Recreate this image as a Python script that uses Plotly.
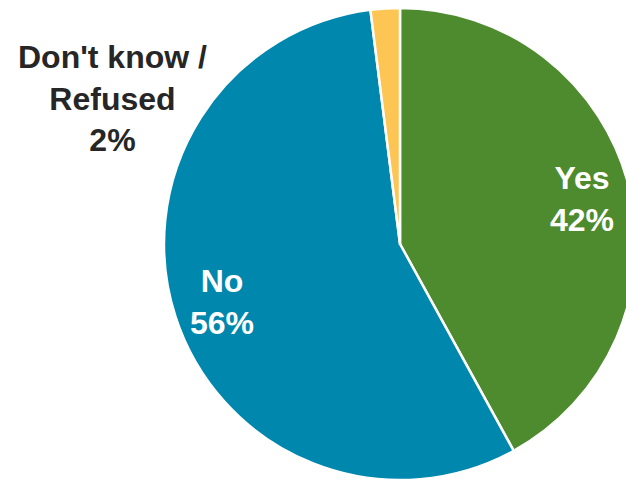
import plotly.graph_objects as go

labels = ["Yes", "No", "Don't know /<br>Refused"]
values = [42, 56, 2]
colors = ["#4d8b2e", "#0087ad", "#fdc553"]
text_colors = ["white", "white", "#262626"]

W, H = 660, 481
cx, cy, r = 400, 244, 236  # pie centre / radius in page pixels

fig = go.Figure()
fig.add_trace(go.Pie(
    labels=labels,
    values=values,
    sort=False,
    direction="clockwise",
    rotation=0,
    marker=dict(colors=colors, line=dict(color="white", width=2.5)),
    textinfo="none",
    hoverinfo="label+percent",
    showlegend=False,
    domain=dict(x=[(cx - r) / W, (cx + r) / W],
                y=[(H - (cy + r)) / H, (H - (cy - r)) / H]),
))

label_pos = [(582, 199), (222, 302), (112, 98)]
for lab, val, col, (px, py) in zip(labels, values, text_colors, label_pos):
    fig.add_annotation(
        x=px / W, y=1 - py / H, xref="paper", yref="paper",
        text=f"{lab}<br>{val}%", showarrow=False,
        font=dict(family="Liberation Sans, Arial, sans-serif", size=32, color=col, weight="bold"),
        align="center", xanchor="center", yanchor="middle",
    )

fig.update_layout(
    margin=dict(l=0, r=0, t=0, b=0),
    paper_bgcolor="white",
    plot_bgcolor="white",
    width=W, height=H,
)

fig.write_html(
    "out.html",
    config={"displayModeBar": False},
    post_script="document.body.style.margin='0';document.body.style.overflow='hidden';document.documentElement.style.overflow='hidden';",
)
